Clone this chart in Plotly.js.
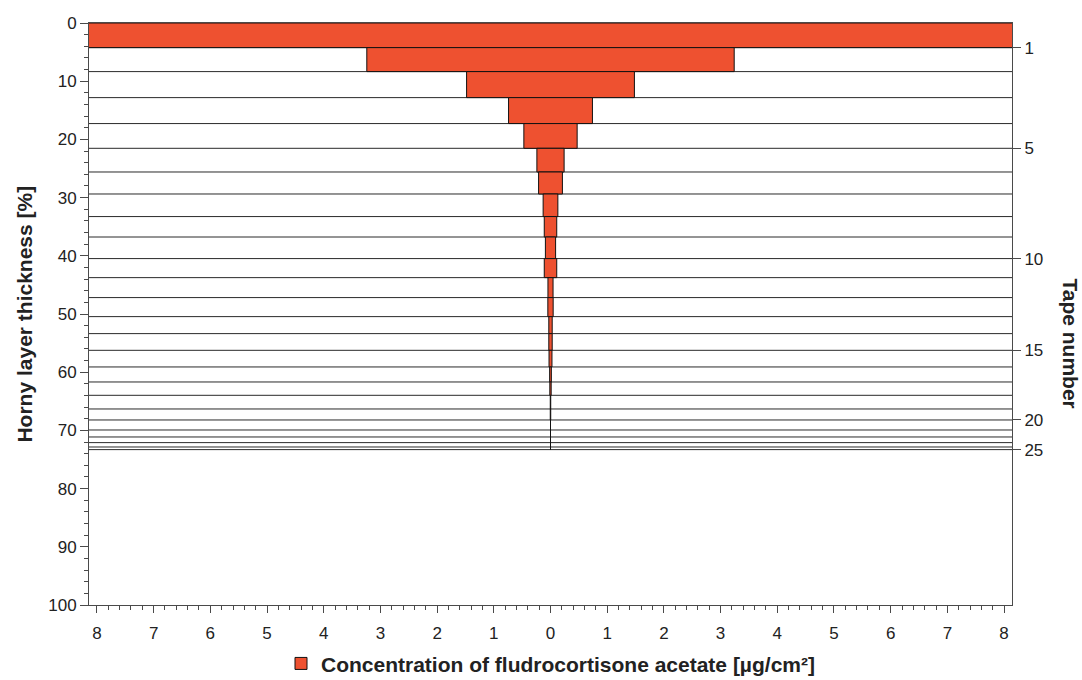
<!DOCTYPE html>
<html>
<head>
<meta charset="utf-8">
<script src="https://cdn.plot.ly/plotly-3.0.1.min.js"></script>
<style>html,body{margin:0;padding:0;background:#fff;}#chart{width:1082px;height:680px;}</style>
</head>
<body>
<div id="chart"></div>
<script>
// Tape numbers 1..25
const tapeNumber = [1,2,3,4,5,6,7,8,9,10,11,12,13,14,15,16,17,18,19,20,21,22,23,24,25];
// Cumulative horny layer thickness [%] at the bottom of each tape
const tapeBottom = [4.23, 8.35, 12.82, 17.28, 21.53, 25.6, 29.38, 33.26, 36.77, 40.48,
                    43.75, 47.18, 50.45, 53.37, 56.24, 59.1, 61.68, 63.97, 66.32, 68.21,
                    69.93, 71.13, 72.1, 72.85, 73.3];
// Concentration of fludrocortisone acetate [µg/cm²] per tape
const conc = [8.3, 3.24, 1.48, 0.74, 0.47, 0.24, 0.21, 0.13, 0.11, 0.09,
              0.11, 0.045, 0.047, 0.03, 0.03, 0.026, 0.015, 0.012, 0.004, 0.004,
              0, 0, 0, 0, 0];
// Labelled tapes on the right axis
const tapeLabels = [1, 5, 10, 15, 20, 25];
// X tick values and labels
const xTickVals = [-8,-7,-6,-5,-4,-3,-2,-1,0,1,2,3,4,5,6,7,8];
const xTickText = ['8','7','6','5','4','3','2','1','0','1','2','3','4','5','6','7','8'];

const tapeTop = tapeBottom.map((b, i) => i === 0 ? 0 : tapeBottom[i - 1]);
const mids = tapeBottom.map((b, i) => (b + tapeTop[i]) / 2);
const thick = tapeBottom.map((b, i) => b - tapeTop[i]);

const FONT = 'Liberation Sans, Arial, Helvetica, sans-serif';
const AXC = '#4a4a4a';

const trace = {
  type: 'bar',
  orientation: 'h',
  y: mids,
  x: conc.map(v => 2 * v),
  base: conc.map(v => -v),
  width: thick,
  marker: {color: '#EE5130', line: {color: '#111', width: 1}},
  name: '<b>Concentration of fludrocortisone acetate [µg/cm²]</b>',
  showlegend: true,
  hoverinfo: 'skip'
};

const dummy = {
  type: 'scatter', x: [0], y: [0], yaxis: 'y2', mode: 'markers',
  marker: {opacity: 0}, showlegend: false, hoverinfo: 'skip'
};

const shapes = tapeBottom.map(b => ({
  type: 'line', xref: 'paper', x0: 0, x1: 1, yref: 'y', y0: b, y1: b,
  line: {color: '#2a2a2a', width: 1}, layer: 'below'
}));

const layout = {
  width: 1082, height: 680,
  margin: {l: 88.5, r: 70, t: 22.7, b: 75, autoexpand: false},
  paper_bgcolor: '#fff', plot_bgcolor: '#fff',
  font: {family: FONT, size: 17, color: '#222'},
  bargap: 0,
  xaxis: {
    range: [-8.14, 8.14], tickmode: 'array', tickvals: xTickVals, ticktext: xTickText,
    ticks: 'outside', ticklen: 7, tickwidth: 1, tickcolor: AXC, ticklabelstandoff: 6,
    showline: true, linecolor: AXC, linewidth: 1, mirror: true,
    showgrid: false, zeroline: false, fixedrange: true,
    tickfont: {size: 17, color: '#222'},
    minor: {tickmode: 'linear', tick0: 0, dtick: 0.2, ticks: 'outside', ticklen: 4, tickcolor: AXC, showgrid: false}
  },
  yaxis: {
    range: [100, 0], tickmode: 'linear', tick0: 0, dtick: 10,
    ticks: 'outside', ticklen: 8, tickwidth: 1, tickcolor: AXC,
    showline: true, linecolor: AXC, linewidth: 1, mirror: true,
    showgrid: false, zeroline: false, fixedrange: true,
    tickfont: {size: 17, color: '#222'},
    minor: {tickmode: 'linear', tick0: 0, dtick: 2, ticks: 'outside', ticklen: 4, tickcolor: AXC, showgrid: false}
  },
  yaxis2: {
    overlaying: 'y', side: 'right', range: [100, 0],
    tickmode: 'array', tickvals: tapeLabels.map(n => tapeBottom[n - 1]), ticktext: tapeLabels.map(String),
    ticks: 'outside', ticklen: 8, tickwidth: 1, tickcolor: AXC,
    showline: false, showgrid: false, zeroline: false, fixedrange: true,
    tickfont: {size: 17, color: '#222'}
  },
  shapes: shapes,
  showlegend: true,
  legend: {
    orientation: 'h', x: 0.5, xanchor: 'center', y: -0.101, yanchor: 'middle',
    font: {size: 21, color: '#222', family: FONT}, bgcolor: 'rgba(0,0,0,0)'
  },
  annotations: [
    {text: '<b>Horny layer thickness [%]</b>', xref: 'paper', yref: 'paper',
     x: -0.0709, y: 0.5, xanchor: 'center', yanchor: 'middle', textangle: -90,
     showarrow: false, font: {size: 21, color: '#222', family: FONT}},
    {text: '<b>Tape number</b>', xref: 'paper', yref: 'paper',
     x: 1.0635, y: 0.45, xanchor: 'center', yanchor: 'middle', textangle: 90,
     showarrow: false, font: {size: 21, color: '#222', family: FONT}}
  ]
};

Plotly.newPlot('chart', [trace, dummy], layout, {displayModeBar: false, staticPlot: true});
</script>
</body>
</html>
